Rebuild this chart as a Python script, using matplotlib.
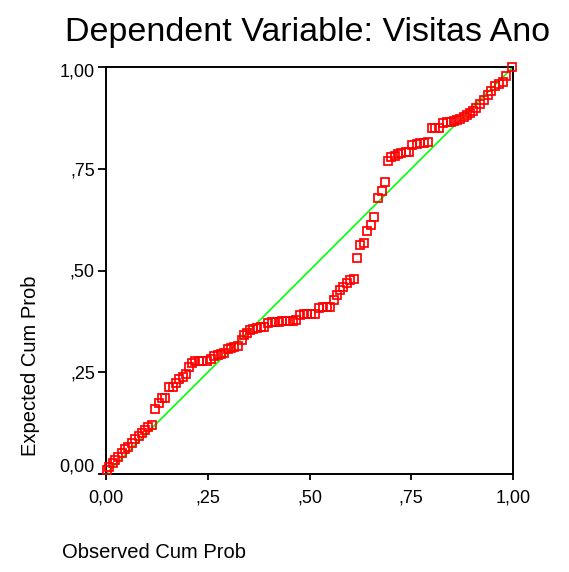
import matplotlib
matplotlib.use("Agg")
import matplotlib.pyplot as plt
from matplotlib.transforms import ScaledTranslation

plt.rcParams['font.family'] = ['Liberation Sans', 'DejaVu Sans']

observed_cum_prob = [
    0.002, 0.008, 0.016, 0.022, 0.030, 0.039, 0.047, 0.055, 0.063, 0.071,
    0.080, 0.088, 0.096, 0.104, 0.113, 0.121, 0.129, 0.137, 0.146, 0.155,
    0.164, 0.171, 0.180, 0.188, 0.196, 0.204, 0.211, 0.219, 0.228, 0.237,
    0.247, 0.257, 0.266, 0.274, 0.283, 0.291, 0.299, 0.307, 0.315, 0.324,
    0.333, 0.339, 0.346, 0.354, 0.362, 0.371, 0.380, 0.389, 0.398, 0.407,
    0.415, 0.424, 0.433, 0.442, 0.451, 0.460, 0.468, 0.476, 0.486, 0.495,
    0.504, 0.514, 0.524, 0.533, 0.542, 0.551, 0.560, 0.567, 0.575, 0.583,
    0.591, 0.599, 0.609, 0.617, 0.625, 0.634, 0.642, 0.650, 0.658, 0.668,
    0.677, 0.685, 0.693, 0.701, 0.709, 0.718, 0.726, 0.736, 0.745, 0.753,
    0.763, 0.771, 0.781, 0.791, 0.800, 0.808, 0.818, 0.828, 0.837, 0.847,
    0.855, 0.863, 0.870, 0.879, 0.887, 0.894, 0.902, 0.910, 0.919, 0.928,
    0.938, 0.947, 0.957, 0.966, 0.975, 0.984, 0.998,
]
expected_cum_prob = [
    0.010, 0.018, 0.026, 0.034, 0.041, 0.051, 0.061, 0.067, 0.077, 0.085,
    0.094, 0.100, 0.108, 0.115, 0.120, 0.160, 0.175, 0.186, 0.187, 0.213,
    0.213, 0.223, 0.233, 0.238, 0.246, 0.264, 0.273, 0.277, 0.277, 0.277,
    0.277, 0.283, 0.291, 0.292, 0.296, 0.297, 0.308, 0.310, 0.312, 0.314,
    0.330, 0.342, 0.346, 0.353, 0.357, 0.359, 0.360, 0.360, 0.372, 0.373,
    0.373, 0.373, 0.375, 0.375, 0.377, 0.377, 0.378, 0.390, 0.392, 0.393,
    0.393, 0.394, 0.408, 0.411, 0.411, 0.411, 0.427, 0.441, 0.451, 0.460,
    0.470, 0.477, 0.480, 0.531, 0.562, 0.567, 0.596, 0.613, 0.631, 0.677,
    0.695, 0.717, 0.769, 0.778, 0.782, 0.786, 0.788, 0.790, 0.790, 0.808,
    0.810, 0.813, 0.814, 0.816, 0.851, 0.851, 0.851, 0.862, 0.865, 0.865,
    0.868, 0.869, 0.872, 0.876, 0.882, 0.887, 0.892, 0.900, 0.908, 0.920,
    0.930, 0.942, 0.954, 0.958, 0.962, 0.979, 1.000,
]
reference_line = [0.0, 1.0]
tick_values = [0.0, 0.25, 0.5, 0.75, 1.0]
tick_labels = ["0,00", ",25", ",50", ",75", "1,00"]

W, H = 569, 572
fig = plt.figure(figsize=(W / 100, H / 100), dpi=100)
ax = fig.add_axes([106 / W, 1 - 474 / H, (513 - 106) / W, (474 - 67) / H])

ax.plot(reference_line, reference_line, color='#00ff00', lw=1.2, zorder=2)
ax.plot(observed_cum_prob, expected_cum_prob, linestyle='none', marker='s',
        markersize=5.8, markerfacecolor='none', markeredgecolor='#ff0000',
        markeredgewidth=1.25, zorder=3, clip_on=False)

ax.set_xlim(0, 1)
ax.set_ylim(0, 1)
ax.set_xticks(tick_values)
ax.set_xticklabels(tick_labels)
ax.set_yticks(tick_values)
ax.set_yticklabels(tick_labels)
for s in ax.spines.values():
    s.set_linewidth(1.4)
ax.tick_params(axis='x', direction='out', length=4, width=1.3, pad=7, labelsize=13)
ax.tick_params(axis='y', direction='out', length=6, width=1.3, pad=2, labelsize=13)

ylbls = ax.get_yticklabels()
ylbls[0].set_transform(ylbls[0].get_transform() + ScaledTranslation(0, 9 / 100, fig.dpi_scale_trans))
ylbls[-1].set_transform(ylbls[-1].get_transform() + ScaledTranslation(0, -3 / 100, fig.dpi_scale_trans))

fig.text(307.5 / W, 1 - 41 / H, "Dependent Variable: Visitas Ano",
         fontsize=24.5, ha='center', va='baseline')
fig.text(31 / W, 1 - 365.5 / H, "Expected Cum Prob", fontsize=14.5,
         rotation=90, ha='center', va='center')
fig.text(153.5 / W, 1 - 558 / H, "Observed Cum Prob", fontsize=14.5,
         ha='center', va='baseline')

fig.savefig("out.png", dpi=100)
